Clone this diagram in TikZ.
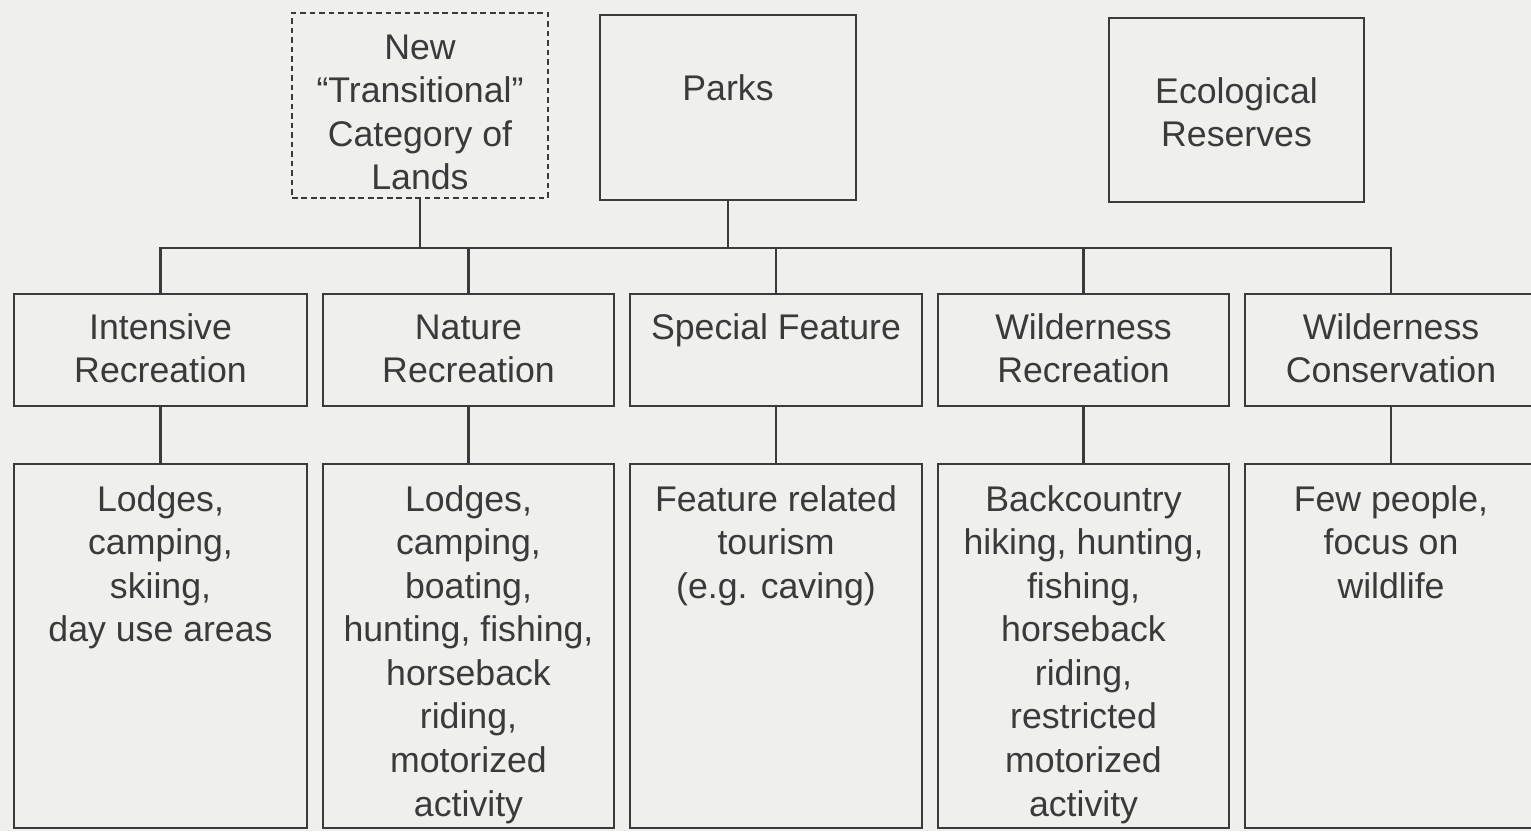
\documentclass[tikz,border=0pt]{standalone}
\usepackage{fontspec}
\setmainfont{Liberation Sans}
\usetikzlibrary{positioning}
\definecolor{paper}{HTML}{EFEFED}
\definecolor{ink}{HTML}{3A3A3A}
% text block of a box: width, height, first baseline, lines
\newcommand{\boxtxt}[4]{\parbox[t][#2][t]{#1}{\centering\rule{0pt}{#3}#4}}

\begin{document}
\begin{tikzpicture}[node distance=0.58cm and 0.16cm,
    box/.style={draw=ink, line width=0.7pt, inner sep=0pt, outer sep=0pt,
      text=ink, font=\fontsize{10.15}{12.4}\selectfont},
    newbox/.style={box, dash pattern=on 1.6pt off 1.1pt},
    link/.style={draw=ink, line width=0.7pt}]
  % page
  \fill[paper] (0,0) rectangle (15.31,-8.31);
  \useasboundingbox (0,0) rectangle (15.31,-8.31);

  % Top categories
  \node[newbox, anchor=north west] (trans) at (2.92,-0.13)
    {\boxtxt{2.56cm}{1.85cm}{0.46cm}{New\\“Transitional”\\Category of\\Lands}};
  \node[box, anchor=north west] (parks) at (6.00,-0.15)
    {\boxtxt{2.56cm}{1.85cm}{0.85cm}{Parks}};
  \node[box, anchor=north west] (eco) at (11.09,-0.18)
    {\boxtxt{2.55cm}{1.84cm}{0.85cm}{Ecological\\Reserves}};

  % Zones
  \node[box, anchor=north west] (intensive) at (0.14,-2.94)
    {\boxtxt{2.93cm}{1.12cm}{0.45cm}{Intensive\\Recreation}};
  \node[box, right=of intensive] (nature)
    {\boxtxt{2.91cm}{1.12cm}{0.45cm}{Nature\\Recreation}};
  \node[box, right=of nature] (special)
    {\boxtxt{2.92cm}{1.12cm}{0.45cm}{Special Feature}};
  \node[box, right=of special] (wrec)
    {\boxtxt{2.91cm}{1.12cm}{0.45cm}{Wilderness\\Recreation}};
  \node[box, right=of wrec] (wcons)
    {\boxtxt{2.92cm}{1.12cm}{0.45cm}{Wilderness\\Conservation}};

  % Uses in each zone
  \node[box, below=of intensive] (intensiveuse)
    {\boxtxt{2.93cm}{3.64cm}{0.47cm}{Lodges,\\camping,\\skiing,\\day use areas}};
  \node[box, below=of nature] (natureuse)
    {\boxtxt{2.91cm}{3.64cm}{0.47cm}{Lodges,\\camping,\\boating,\\hunting, fishing,\\horseback\\riding,\\motorized\\activity}};
  \node[box, below=of special] (specialuse)
    {\boxtxt{2.92cm}{3.64cm}{0.47cm}{Feature related\\tourism\\(e.g. caving)}};
  \node[box, below=of wrec] (wrecuse)
    {\boxtxt{2.91cm}{3.64cm}{0.47cm}{Backcountry\\hiking, hunting,\\fishing,\\horseback\\riding,\\restricted\\motorized\\activity}};
  \node[box, below=of wcons] (wconsuse)
    {\boxtxt{2.92cm}{3.64cm}{0.47cm}{Few people,\\focus on\\wildlife}};

  % Tree lines
  \coordinate (bus) at (0,-2.48);
  \draw[link] (trans) -- (trans |- bus);
  \draw[link] (parks) -- (parks |- bus);
  \draw[link] (intensive) -- (intensive |- bus) -- (wcons |- bus) -- (wcons);
  \foreach \zone in {nature,special,wrec}
    \draw[link] (\zone) -- (\zone |- bus);
  \foreach \zone in {intensive,nature,special,wrec,wcons}
    \draw[link] (\zone) -- (\zone use);
\end{tikzpicture}
\end{document}
